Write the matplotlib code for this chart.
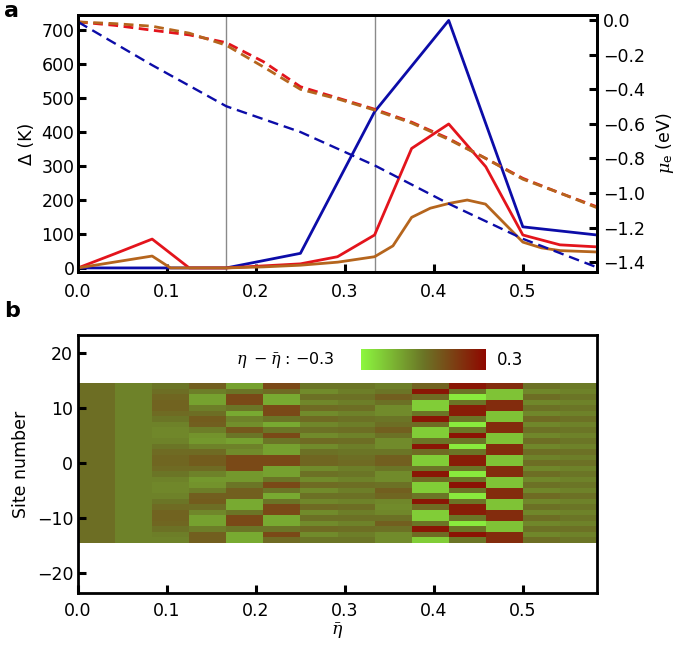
import numpy as np
import matplotlib
matplotlib.use("Agg")
import matplotlib.pyplot as plt
from matplotlib.colors import LinearSegmentedColormap

plt.rcParams['font.family'] = ['DejaVu Sans']
plt.rcParams['mathtext.fontset'] = 'dejavuserif'

# ---------------- data: panel a ----------------
x_blue = [0, 1/24, 1/12, 1/8, 1/6, 1/4, 1/3, 5/12, 1/2, 7/12]
gap_blue = [0, 0, 0, 0, 0, 43, 460, 729, 121, 97]

x_red = [k / 24 for k in range(15)]
gap_red = [0, 42, 85, 0, 0, 6, 12, 33, 97, 352, 424, 298, 97, 68, 62]

x_brown = [0, 1/12, 0.104, 1/6, 0.208, 0.25, 0.292, 1/3, 0.354, 0.375,
           0.396, 0.417, 0.4375, 0.458, 0.5, 0.521, 0.542, 0.583]
gap_brown = [0, 35, 0, 0, 3, 8, 17, 33, 65, 149, 176, 190, 200, 188, 76, 59,
             51, 47]

x_mu = [k / 24 for k in range(15)]
mu_red = [-0.01, -0.03, -0.058, -0.085, -0.13, -0.24, -0.385, -0.45, -0.515,
          -0.59, -0.685, -0.80, -0.915, -1.0, -1.08]
mu_brown = [-0.01, -0.02, -0.035, -0.075, -0.145, -0.27, -0.40, -0.455, -0.52,
            -0.595, -0.69, -0.80, -0.92, -1.0, -1.085]
x_mu_blue = [k / 12 for k in range(8)]
mu_blue = [-0.01, -0.26, -0.498, -0.647, -0.84, -1.062, -1.265, -1.43]

vlines = [1/6, 1/3]

# ---------------- data: panel b (columns eta_bar bins, rows site 14 -> -14) --
col_edges = [k / 24 for k in range(15)]
sites = list(range(14, -15, -1))
c0 = [0.02] * 29
c1 = [-0.03] * 29
c2 = [0.0, 0.02, 0.04, 0.05, 0.05, 0.03, 0.0, -0.03, -0.04, -0.04, -0.03, 0.0,
      0.03, 0.04, 0.04, 0.03, 0.0, -0.03, -0.04, -0.04, -0.03, 0.0, 0.03, 0.05,
      0.05, 0.04, 0.01, -0.02, -0.03]
c3 = [0.06, -0.02, -0.1, -0.1, -0.02, 0.02, 0.07, 0.06, -0.02, -0.07, -0.08,
      -0.03, 0.03, 0.07, 0.07, 0.03, -0.03, -0.08, -0.07, -0.02, 0.06, 0.07,
      0.02, -0.04, -0.1, -0.1, -0.02, 0.06, 0.06]
c4 = [-0.1, 0.0, 0.12, 0.12, 0.0, -0.12, -0.03, -0.06, 0.08, 0.0, -0.1, -0.03,
      -0.05, 0.12, 0.12, 0.12, -0.08, -0.08, 0.0, 0.06, 0.06, -0.12, -0.12,
      0.0, 0.12, 0.12, 0.0, -0.12, -0.12]
c5 = [0.12, 0.03, -0.12, -0.12, 0.12, 0.12, 0.0, -0.12, 0.0, 0.12, 0.0, -0.1,
      -0.1, 0.12, 0.12, -0.1, -0.1, 0.0, 0.12, 0.0, -0.12, 0.0, 0.12, 0.12,
      -0.12, -0.12, 0.0, 0.12, 0.03]
c6 = [0.0, -0.05, 0.01, -0.04, 0.03, -0.05, 0.03, -0.04, 0.01, -0.05, 0.03,
      -0.05, 0.01, 0.04, 0.04, -0.05, 0.01, -0.05, 0.03, -0.05, 0.01, -0.04,
      0.03, -0.05, 0.01, -0.05, 0.03, -0.05, 0.0]
c7 = [0.0, -0.02, 0.01, -0.02, 0.02, -0.03, 0.01, -0.02, 0.02, -0.03, 0.02,
      -0.02, 0.0, 0.02, 0.03, -0.02, 0.0, -0.03, 0.02, -0.02, 0.01, -0.03, 0.02,
      -0.02, 0.01, -0.03, 0.02, -0.02, 0.0]
c8 = [-0.02, 0.0, 0.06, 0.01, -0.05, -0.05, 0.0, 0.02, 0.06, 0.01, -0.05,
      -0.05, 0.0, 0.06, 0.06, 0.0, -0.05, -0.05, 0.01, 0.06, 0.04, -0.04, -0.05,
      -0.04, 0.01, 0.06, 0.01, -0.05, -0.05]
c9 = [0.05, 0.26, 0.03, -0.2, -0.2, 0.0, 0.26, 0.03, -0.2, -0.2, 0.0, 0.26,
      0.03, -0.2, -0.2, 0.0, 0.26, 0.03, -0.2, -0.2, 0.0, 0.26, 0.03, -0.2,
      -0.2, 0.0, 0.26, 0.03, -0.2]
c10 = [0.26, 0.0, -0.27, 0.0, 0.24, 0.24, 0.0, -0.27, 0.0, 0.27, 0.0, -0.27,
       0.0, 0.24, 0.24, 0.0, -0.27, 0.0, 0.27, 0.0, -0.27, 0.0, 0.24, 0.24, 0.0,
       -0.27, 0.0, 0.27, 0.0]
c11 = [0.2, -0.18, -0.18, 0.2, 0.2, -0.18, -0.18, 0.2, 0.2, -0.18, -0.18, 0.2,
       0.2, -0.18, -0.18, 0.2, 0.2, -0.18, -0.18, 0.2, 0.2, -0.18, -0.18, 0.2,
       0.2, -0.18, -0.18, 0.2, 0.2]
c12 = [0.01, -0.04, 0.02, -0.04, 0.01, -0.04, 0.03, -0.04, 0.01, -0.04, 0.02,
       -0.04, 0.02, -0.03, 0.02, -0.04, 0.02, -0.04, 0.01, -0.04, 0.03, -0.04,
       0.01, -0.04, 0.02, -0.04, 0.01, -0.04, 0.02]
c13 = [-0.01, -0.03, 0.0, -0.03, 0.0, -0.03, 0.01, -0.03, 0.0, -0.03, 0.0,
       -0.03, 0.01, -0.02, 0.01, -0.03, 0.0, -0.03, 0.0, -0.03, 0.01, -0.03,
       0.0, -0.03, 0.0, -0.03, 0.01, -0.03, 0.0]
columns = [c0, c1, c2, c3, c4, c5, c6, c7, c8, c9, c10, c11, c12, c13]

# ---------------- styling ----------------
BLUE = '#0c0ca8'
RED = '#e3141c'
BROWN = '#b5651d'
GRAY = '#8a8a8a'
FS = 12.5
LW = 2.0

fig = plt.figure(figsize=(6.85, 6.48), dpi=100)
W, H = 685.0, 648.0
axa = fig.add_axes([78 / W, 1 - 272 / H, (597 - 78) / W, (272 - 15) / H])
axb = fig.add_axes([78 / W, 1 - 593 / H, (597 - 78) / W, (593 - 335) / H])

def style(ax, xpad, ypad):
    for s in ax.spines.values():
        s.set_linewidth(2.0)
    ax.tick_params(direction='in', length=6, width=2.2, labelsize=FS)
    ax.tick_params(axis='x', pad=xpad)
    ax.tick_params(axis='y', pad=ypad)

# panel a
for v in vlines:
    axa.axvline(v, color=GRAY, lw=1.0, zorder=1)
axa.plot(x_blue, gap_blue, color=BLUE, lw=LW, zorder=3)
axa.plot(x_red, gap_red, color=RED, lw=LW, zorder=3)
axa.plot(x_brown, gap_brown, color=BROWN, lw=LW, zorder=3)
axa.set_xlim(0, 7 / 12)
axa.set_ylim(-12, 745)
axa.set_xticks([0.0, 0.1, 0.2, 0.3, 0.4, 0.5])
axa.set_xticklabels(['0.0', '0.1', '0.2', '0.3', '0.4', '0.5'])
axa.set_yticks(range(0, 701, 100))
axa.set_ylabel('Δ (K)', fontsize=FS, labelpad=4)
style(axa, 8, 2.5)

axr = axa.twinx()
axr.plot(x_mu, mu_red, color=RED, lw=LW, dashes=(3.5, 2.0), zorder=2)
axr.plot(x_mu, mu_brown, color=BROWN, lw=LW, dashes=(3.5, 2.0), zorder=2)
axr.plot(x_mu_blue, mu_blue, color=BLUE, lw=1.7, dashes=(4.5, 2.5), zorder=2)
axr.set_ylim(-1.457, 0.03)
axr.set_yticks([0.0, -0.2, -0.4, -0.6, -0.8, -1.0, -1.2, -1.4])
axr.set_yticklabels(['0.0', '−0.2', '−0.4', '−0.6', '−0.8', '−1.0', '−1.2', '−1.4'])
axr.set_ylabel(r'$\mu_{\mathsf{e}}$ (eV)', fontsize=FS, labelpad=6)
style(axr, 8, 4.5)

# panel b
cmap = LinearSegmentedColormap.from_list(
    'gr', [(0.0, (0.55, 0.97, 0.25)), (0.5, (0.42, 0.46, 0.15)),
           (1.0, (0.56, 0.03, 0.0))])
Z = np.array(columns).T[::-1]
y_edges = np.arange(-14.5, 15.5, 1.0)
axb.pcolormesh(col_edges, y_edges, Z, cmap=cmap, vmin=-0.3, vmax=0.3,
               shading='flat')
axb.set_xlim(0, 7 / 12)
axb.set_ylim(-23.6, 23.3)
axb.set_xticks([0.0, 0.1, 0.2, 0.3, 0.4, 0.5])
axb.set_xticklabels(['0.0', '0.1', '0.2', '0.3', '0.4', '0.5'])
axb.set_yticks([20, 10, 0, -10, -20])
axb.set_yticklabels(['20', '10', '0', '−10', '−20'])
axb.set_ylabel('Site number', fontsize=FS, labelpad=5)
axb.set_xlabel(r'$\bar{\eta}$', fontsize=FS, labelpad=1)
style(axb, 6.5, 3.5)

cax = fig.add_axes([361 / W, 1 - 370 / H, 125 / W, 21 / H])
grad = np.linspace(-0.3, 0.3, 256)[None, :]
cax.imshow(grad, aspect='auto', cmap=cmap, vmin=-0.3, vmax=0.3,
           extent=[-0.3, 0.3, 0, 1])
cax.set_axis_off()
fig.text(335 / W, 1 - 360 / H, r'$\eta\ -\bar{\eta}$ : −0.3', fontsize=11.5,
         ha='right', va='center')
fig.text(497 / W, 1 - 360 / H, '0.3', fontsize=12, ha='left', va='center')

fig.text(4 / W, 1 - 11 / H, 'a', fontsize=16, fontweight='bold', va='center')
fig.text(4 / W, 1 - 311 / H, 'b', fontsize=16, fontweight='bold', va='center')

fig.savefig('out.png', dpi=100)
